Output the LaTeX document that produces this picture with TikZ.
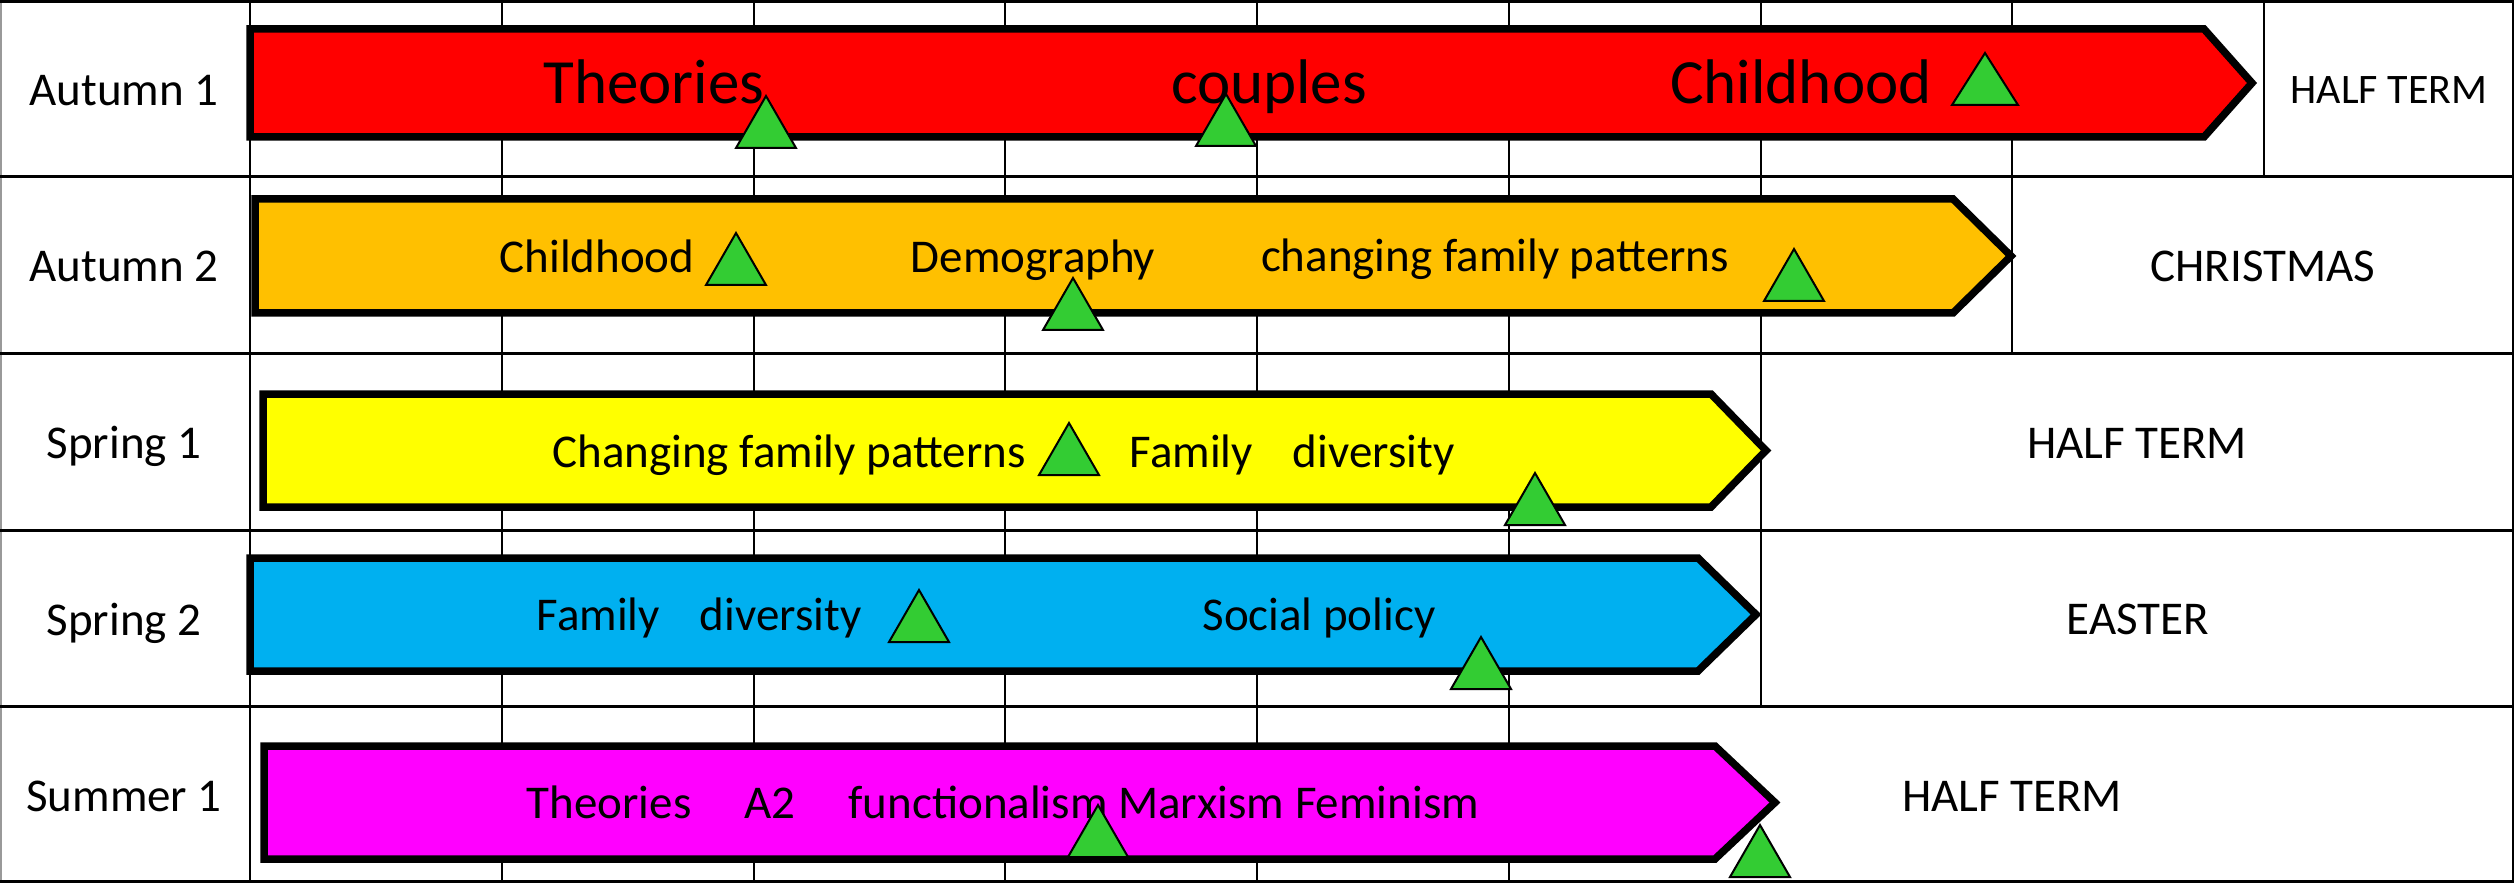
\documentclass[tikz,border=0pt]{standalone}
\usepackage{fontspec}
\setmainfont{Carlito}
\definecolor{tgreen}{HTML}{33CC33}
\definecolor{ared}{HTML}{FF0000}
\definecolor{aorange}{HTML}{FFC000}
\definecolor{ayellow}{HTML}{FFFF00}
\definecolor{ablue}{HTML}{00B0F0}
\definecolor{amagenta}{HTML}{FF00FF}
\begin{document}
\begin{tikzpicture}[x=1pt,y=-1pt,
  vgrid/.style={line width=2.2pt,black},
  hgrid/.style={line width=3pt,black},
  term/.style={line width=7.5pt,black,line join=miter,miter limit=10},
  lbl/.style={anchor=base,inner sep=0pt,font=\fontsize{47}{56}\selectfont},
  big/.style={anchor=base,inner sep=0pt,font=\fontsize{63}{75}\selectfont},
  tri/.pic={\draw[line width=2pt,fill=tgreen,line join=miter] (-30,0) -- (0,-52) -- (30,0) -- cycle;},
]
\useasboundingbox (0,0) rectangle (2514,885);
\fill[white] (0,0) rectangle (2514,885);
% grid
\draw[line width=1.5pt,black!40] (1,0) -- (1,882);
\foreach \y in {1.5,177,353,530,706,881.5} \draw[hgrid] (0,\y) -- (2514,\y);
\foreach \x in {250,502,754,1005,1257,1509} \draw[vgrid] (\x,0) -- (\x,882);
\draw[vgrid] (1761,0) -- (1761,706);
\draw[vgrid] (2012,0) -- (2012,353);
\draw[vgrid] (2264,0) -- (2264,177);
\draw[vgrid] (2513,0) -- (2513,882);
% term arrows
\draw[term,fill=ared] (250,29) -- (2204,29) -- (2252,83) -- (2204,137) -- (250,137) -- cycle;
\draw[term,fill=aorange] (255,199) -- (1953,199) -- (2011,256) -- (1953,313) -- (255,313) -- cycle;
\draw[term,fill=ayellow] (263,394) -- (1711,394) -- (1766,450.5) -- (1711,507) -- (263,507) -- cycle;
\draw[term,fill=ablue] (250,558) -- (1698,558) -- (1756,614.5) -- (1698,671) -- (250,671) -- cycle;
\draw[term,fill=amagenta] (264,746) -- (1715,746) -- (1775,802.5) -- (1715,859) -- (264,859) -- cycle;
% row 1
\node[lbl] (l1) at (124,106) {Autumn 1};
\node[big] (t11) at (654,104) {Theories};
\node[big] (t12) at (1269,104) {couples};
\node[big] (t13) at (1801,104) {Childhood};
\node[lbl,font=\fontsize{42}{50}\selectfont] (h1) at (2389,104) {HALF TERM};
% row 2
\node[lbl] (l2) at (124,282) {Autumn 2};
\node[lbl] (t21) at (597,273) {Childhood};
\node[lbl] (t22) at (1033,273) {Demography};
\node[lbl] (t23) at (1495,272) {changing family patterns};
\node[lbl] (h2) at (2263,282) {CHRISTMAS};
% row 3
\node[lbl] (l3) at (124,458) {Spring 1};
\node[lbl] (t31) at (789,467) {Changing family patterns};
\node[lbl] (t32) at (1292,467) {Family\hspace{40pt}diversity};
\node[lbl] (h3) at (2137,458) {HALF TERM};
% row 4
\node[lbl] (l4) at (124,635) {Spring 2};
\node[lbl] (t41) at (699,630) {Family\hspace{40pt}diversity};
\node[lbl] (t42) at (1319,630) {Social policy};
\node[lbl] (h4) at (2138,634) {EASTER};
% row 5
\node[lbl] (l5) at (124,811) {Summer 1};
\node[lbl] (t51) at (1003,818) {Theories\hspace{53pt}A2\hspace{53pt}functionalism Marxism Feminism};
\node[lbl] (h5) at (2012,811) {HALF TERM};
% triangles
\pic (g1) at (766,148) {tri};
\pic (g2) at (1226,146) {tri};
\pic[xscale=1.1] (g3) at (1985,105) {tri};
\pic (g4) at (736,285) {tri};
\pic (g5) at (1073,330) {tri};
\pic (g6) at (1794,301) {tri};
\pic (g7) at (1069,475) {tri};
\pic (g8) at (1535,525) {tri};
\pic (g9) at (919,642) {tri};
\pic (g10) at (1481,689) {tri};
\pic (g11) at (1098,857) {tri};
\pic (g12) at (1760,877) {tri};
\end{tikzpicture}
\end{document}
